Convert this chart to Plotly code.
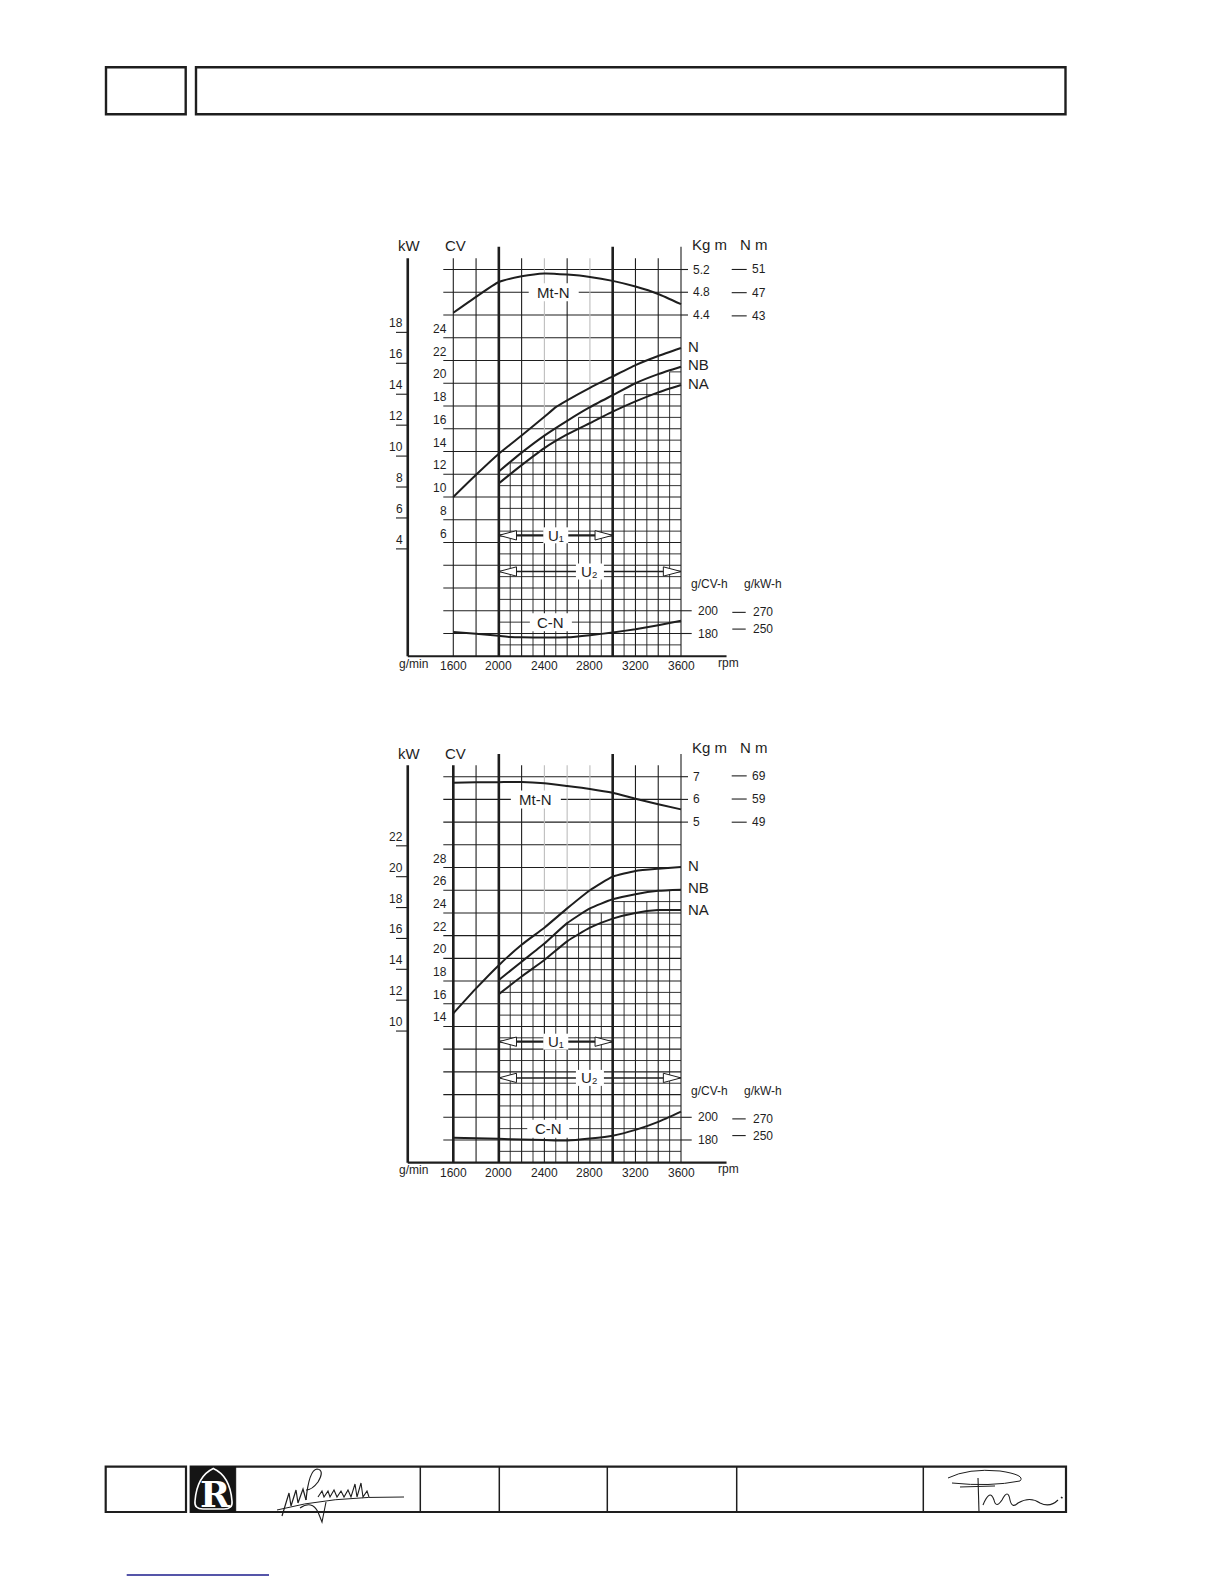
import numpy as np
import plotly.graph_objects as go

W, H = 1224, 1584
INK = "#1e1e1e"
GRAY = "#bdbdbd"
FONT = "Liberation Sans, Arial, sans-serif"

# ---------------- values ----------------
grid_rpm = [1600, 1800, 2000, 2200, 2400, 2600, 2800, 3000, 3200, 3400, 3600]
x_tick_rpm = [1600, 2000, 2400, 2800, 3200, 3600]
x_tick_text = ["1600", "2000", "2400", "2800", "3200", "3600"]
nb_rpm = [2000, 2200, 2400, 2600, 2800, 3000, 3200, 3400, 3600]
u1_rpm = [2000, 3000]
u2_rpm = [2000, 3600]

# upper chart
c1_N_rpm = [1600, 1800, 2000, 2200, 2400, 2500, 2600, 2800, 3000, 3200, 3400, 3600]
c1_N_cv = [10.0, 11.95, 13.8, 15.4, 17.05, 17.9, 18.5, 19.6, 20.6, 21.6, 22.4, 23.1]
c1_NB_cv = [12.25, 13.9, 15.4, 16.7, 17.9, 18.95, 20.0, 20.8, 21.45]
c1_NA_cv = [11.2, 12.8, 14.3, 15.5, 16.5, 17.5, 18.4, 19.2, 19.85]
c1_Mt_kgm = [4.44, 4.72, 4.98, 5.08, 5.13, 5.11, 5.07, 5.0, 4.9, 4.77, 4.59]
c1_C_rpm = [1600, 1800, 2000, 2100, 2200, 2400, 2600, 2800, 3000, 3200, 3400, 3600]
c1_C_g = [181.4, 179.7, 178.0, 177.0, 176.6, 176.4, 176.6, 178.5, 180.9, 183.8, 187.3, 191.2]
c1_cv_ticks = [6, 8, 10, 12, 14, 16, 18, 20, 22, 24]
c1_kw_ticks = [4, 6, 8, 10, 12, 14, 16, 18]
c1_kgm_ticks = [5.2, 4.8, 4.4]
c1_kgm_text = ["5.2", "4.8", "4.4"]
c1_nm_ticks = [51, 47, 43]
c1_gcv_ticks = [200, 180]
c1_gkw_ticks = [270, 250]

# lower chart
c2_N_rpm = [1600, 1800, 2000, 2200, 2400, 2600, 2800, 3000, 3200, 3400, 3600]
c2_N_cv = [15.15, 17.35, 19.4, 21.2, 22.7, 24.4, 26.0, 27.2, 27.7, 27.9, 28.05]
c2_NB_cv = [18.1, 19.7, 21.3, 23.1, 24.4, 25.2, 25.65, 25.95, 26.05]
c2_NA_cv = [16.85, 18.4, 19.85, 21.5, 22.7, 23.5, 24.0, 24.25, 24.25]
c2_Mt_kgm = [6.73, 6.75, 6.76, 6.77, 6.71, 6.59, 6.46, 6.29, 6.03, 5.79, 5.56]
c2_C_rpm = [1600, 1800, 2000, 2200, 2400, 2600, 2800, 3000, 3200, 3400, 3600]
c2_C_g = [182.0, 181.5, 181.0, 180.5, 180.0, 179.5, 181.3, 183.8, 188.9, 196.0, 205.0]
c2_cv_ticks = [14, 16, 18, 20, 22, 24, 26, 28]
c2_kw_ticks = [10, 12, 14, 16, 18, 20, 22]
c2_kgm_ticks = [7, 6, 5]
c2_kgm_text = ["7", "6", "5"]
c2_nm_ticks = [69, 59, 49]
c2_gcv_ticks = [200, 180]
c2_gkw_ticks = [270, 250]

KW_PER_CV = 1.35962
NM_PER_KGM = 9.80665
XS = 0.11385  # px per rpm


# ---------------- page geometry helpers ----------------
def px2rpm(px):
    return 1600 + (px - 453.3) / XS


def pxx(px):
    return px / W


def pxy(py):
    return 1 - py / H


charts = [
    dict(xa="x", ys=["y", "y2", "y3", "y4", "y5", "y6"], B=-4, T=30, pyB=656.25, s=11.375,
         dom=(222, 694), a=4.0, b=5.0, g0=200.0, thick=[2000, 3000], gray=[2400, 2800],
         N_rpm=c1_N_rpm, N=c1_N_cv, NB=c1_NB_cv, NA=c1_NA_cv, Mt=c1_Mt_kgm,
         C_rpm=c1_C_rpm, C=c1_C_g, cv_ticks=c1_cv_ticks, kw_ticks=c1_kw_ticks,
         kgm_ticks=c1_kgm_ticks, kgm_text=c1_kgm_text, nm_ticks=c1_nm_ticks,
         gcv_ticks=c1_gcv_ticks, gkw_ticks=c1_gkw_ticks,
         u_cv=(6.63, 3.45), mt_lab=(2482, 4.8), cn_lab=(2457, 190),
         head_y=245.5, head_y2=244.3, cons_y=584.3, foot_y=664.0, rpm_y=662.7),
    dict(xa="x2", ys=["y7", "y8", "y9", "y10", "y11", "y12"], B=2, T=36, pyB=1162.7, s=11.353,
         dom=(722, 1198), a=22.0, b=2.0, g0=140.0, thick=[1600, 2000, 3000], gray=[2400, 2600, 2800],
         N_rpm=c2_N_rpm, N=c2_N_cv, NB=c2_NB_cv, NA=c2_NA_cv, Mt=c2_Mt_kgm,
         C_rpm=c2_C_rpm, C=c2_C_g, cv_ticks=c2_cv_ticks, kw_ticks=c2_kw_ticks,
         kgm_ticks=c2_kgm_ticks, kgm_text=c2_kgm_text, nm_ticks=c2_nm_ticks,
         gcv_ticks=c2_gcv_ticks, gkw_ticks=c2_gkw_ticks,
         u_cv=(12.66, 9.47), mt_lab=(2325, 6.0), cn_lab=(2434, 190),
         head_y=753.3, head_y2=747.3, cons_y=1090.7, foot_y=1170.0, rpm_y=1169.0),
]

fig = go.Figure()
shapes = []
label_boxes = []
annotations = []
layout_axes = {}


def seg(xref, yref, x0, y0, x1, y1, w=1.1, color=INK, layer="below"):
    shapes.append(dict(type="line", xref=xref, yref=yref, x0=x0, y0=y0, x1=x1, y1=y1,
                       line=dict(color=color, width=w), layer=layer))


def txt(x, y, s, xref, yref, size=12, xanchor="center", yanchor="middle",
        xshift=0, yshift=0):
    annotations.append(dict(x=x, y=y, xref=xref, yref=yref, text=s, showarrow=False,
                            font=dict(family=FONT, size=size, color=INK), xanchor=xanchor,
                            yanchor=yanchor, xshift=xshift, yshift=yshift, borderpad=1))


def axkey(name):
    return name[0] + "axis" + name[1:]


xrange_ = [px2rpm(360), px2rpm(830)]

for ch in charts:
    xa = ch["xa"]
    ycv, ykg, ygc, ykw, ynm, ygk = ch["ys"]
    B, T, a, b, g0, s = ch["B"], ch["T"], ch["a"], ch["b"], ch["g0"], ch["s"]
    cv_lo = B + (ch["pyB"] - ch["dom"][1]) / s
    cv_hi = B + (ch["pyB"] - ch["dom"][0]) / s
    ranges = {
        ycv: [cv_lo, cv_hi],
        ykg: [(cv_lo - a) / b, (cv_hi - a) / b],
        ygc: [10 * cv_lo + g0, 10 * cv_hi + g0],
        ykw: [cv_lo / KW_PER_CV, cv_hi / KW_PER_CV],
        ynm: [(cv_lo - a) / b * NM_PER_KGM, (cv_hi - a) / b * NM_PER_KGM],
        ygk: [(10 * cv_lo + g0) * KW_PER_CV, (10 * cv_hi + g0) * KW_PER_CV],
    }
    layout_axes[axkey(xa)] = dict(domain=[pxx(360), pxx(830)], range=xrange_, visible=False,
                                  fixedrange=True, anchor=ycv, showgrid=False, zeroline=False)
    for yn in ch["ys"]:
        d = dict(range=ranges[yn], visible=False, fixedrange=True, anchor=xa,
                 showgrid=False, zeroline=False)
        if yn == ycv:
            d["domain"] = [pxy(ch["dom"][1]), pxy(ch["dom"][0])]
        else:
            d["overlaying"] = ycv
        layout_axes[axkey(yn)] = d

    NB = ch["NB"]

    def nbv(r):
        return float(np.interp(r, nb_rpm, NB))

    # ---- grid ----
    xl = px2rpm(443.3)
    for cv in range(B + 2, T + 1, 2):
        seg(xa, ycv, xl, cv, 3600, cv, 1.1)
    seg(xa, ycv, 1200, B, 4000, B, 2.2)          # bottom axis
    seg(xa, ycv, 1200, B, 1200, T + 1, 2.6)      # kW axis
    for r in grid_rpm:
        top = T + 2 if r in (2000, 3000, 3600) else T + 1
        w = 2.6 if r in ch["thick"] else 1.1
        if r in ch["gray"]:
            v = nbv(r)
            seg(xa, ycv, r, B, r, v, w)
            seg(xa, ycv, r, v, r, top, w, GRAY)
        else:
            seg(xa, ycv, r, B, r, top, w)
    # fine grid below NB
    for r in range(2100, 3600, 200):
        seg(xa, ycv, r, B, r, float(np.floor(nbv(r))), 0.9)
    fine_r = list(range(2000, 3601, 100))
    for c in range(B + 1, T, 2):
        ok = [r for r in fine_r if nbv(r) >= c]
        if ok and ok[0] < 3600:
            seg(xa, ycv, ok[0], c, 3600, c, 0.9)

    # ---- axis ticks ----
    for v in ch["kgm_ticks"]:
        seg(xa, ykg, 3600, v, px2rpm(688), v, 1.1)
    for v in ch["gcv_ticks"]:
        seg(xa, ygc, 3600, v, px2rpm(691.7), v, 1.1)
    for v in ch["nm_ticks"]:
        seg(xa, ynm, px2rpm(731.7), v, px2rpm(746.7), v, 1.1)
    for v in ch["gkw_ticks"]:
        seg(xa, ygk, px2rpm(732.3), v, px2rpm(745.7), v, 1.1)
    for v in ch["kw_ticks"]:
        seg(xa, ykw, px2rpm(396), v, 1200, v, 1.1)

    # ---- tick labels ----
    for v in ch["cv_ticks"]:
        txt(1600, v, str(v), xa, ycv, 12, "right", "bottom", xshift=-4, yshift=0)
    for v in ch["kw_ticks"]:
        txt(1200, v, str(v), xa, ykw, 12, "right", "bottom", xshift=-3, yshift=0)
    for v, t in zip(ch["kgm_ticks"], ch["kgm_text"]):
        txt(3600, v, t, xa, ykg, 12, "left", "middle", xshift=10)
    for v in ch["gcv_ticks"]:
        txt(3600, v, str(v), xa, ygc, 12, "left", "middle", xshift=15)
    for v in ch["nm_ticks"]:
        txt(px2rpm(749.5), v, str(v), xa, ynm, 12, "left", "middle")
    for v in ch["gkw_ticks"]:
        txt(px2rpm(751), v, str(v), xa, ygk, 12, "left", "middle")
    for r, t in zip(x_tick_rpm, x_tick_text):
        txt(r, B, t, xa, ycv, 12, "center", "top", yshift=-1)

    # ---- headers ----
    txt(pxx(409), pxy(ch["head_y"]), "kW", "paper", "paper", 15)
    txt(pxx(455), pxy(ch["head_y"]), "CV", "paper", "paper", 15)
    txt(pxx(709.5), pxy(ch["head_y2"]), "Kg m", "paper", "paper", 15)
    txt(pxx(754), pxy(ch["head_y2"]), "N m", "paper", "paper", 15)
    txt(pxx(709), pxy(ch["cons_y"]), "g/CV-h", "paper", "paper", 12)
    txt(pxx(762.5), pxy(ch["cons_y"]), "g/kW-h", "paper", "paper", 12)
    txt(pxx(413), pxy(ch["foot_y"]), "g/min", "paper", "paper", 12)
    txt(pxx(728), pxy(ch["rpm_y"]), "rpm", "paper", "paper", 12)

    # ---- curves ----
    line = dict(color=INK, width=2, shape="spline", smoothing=0.5)
    fig.add_trace(go.Scatter(x=ch["N_rpm"], y=ch["N"], xaxis=xa, yaxis=ycv, mode="lines",
                             line=line, hoverinfo="skip", showlegend=False, name="N"))
    fig.add_trace(go.Scatter(x=nb_rpm, y=ch["NB"], xaxis=xa, yaxis=ycv, mode="lines",
                             line=line, hoverinfo="skip", showlegend=False, name="NB"))
    fig.add_trace(go.Scatter(x=nb_rpm, y=ch["NA"], xaxis=xa, yaxis=ycv, mode="lines",
                             line=line, hoverinfo="skip", showlegend=False, name="NA"))
    fig.add_trace(go.Scatter(x=grid_rpm, y=ch["Mt"], xaxis=xa, yaxis=ykg, mode="lines",
                             line=line, hoverinfo="skip", showlegend=False, name="Mt-N"))
    fig.add_trace(go.Scatter(x=ch["C_rpm"], y=ch["C"], xaxis=xa, yaxis=ygc, mode="lines",
                             line=line, hoverinfo="skip", showlegend=False, name="C-N"))

    txt(3600, ch["N"][-1], "N", xa, ycv, 15, "left", "middle", xshift=5, yshift=1)
    txt(3600, ch["NB"][-1], "NB", xa, ycv, 15, "left", "middle", xshift=5, yshift=2)
    txt(3600, ch["NA"][-1], "NA", xa, ycv, 15, "left", "middle", xshift=5, yshift=1)

    # white boxes behind inline labels (in CV coordinates of the base axis)
    def box(rc, cvc, half_w_px, half_h_px):
        label_boxes.append(dict(type="rect", xref=xa, yref=ycv, layer="above",
                                x0=rc - half_w_px / XS, x1=rc + half_w_px / XS,
                                y0=cvc - half_h_px / s, y1=cvc + half_h_px / s,
                                fillcolor="white", line=dict(width=0)))

    mt_cv = a + b * ch["mt_lab"][1]
    box(ch["mt_lab"][0], mt_cv, 25, 9)
    txt(ch["mt_lab"][0], ch["mt_lab"][1], "Mt-N", xa, ykg, 15)
    cn_cv = (ch["cn_lab"][1] - g0) / 10.0
    box(ch["cn_lab"][0], cn_cv, 21, 9)
    txt(ch["cn_lab"][0], ch["cn_lab"][1], "C-N", xa, ygc, 15)

    # ---- U1 / U2 ranges ----
    hl = 155.0     # arrow head length (rpm)
    hh = 0.41      # arrow head half height (CV)
    for (r0, r1), ucv, lab, lx, w, bw in ((u1_rpm, ch["u_cv"][0], "U\u2081", 2500, 2.2, 12.5),
                                           (u2_rpm, ch["u_cv"][1], "U\u2082", 2800, 1.5, 14)):
        seg(xa, ycv, r0, ucv, r1, ucv, w, layer="above")
        for tip, base in ((r0, r0 + hl), (r1, r1 - hl)):
            shapes.append(dict(type="path", xref=xa, yref=ycv, layer="above",
                               path=f"M {tip},{ucv} L {base},{ucv + hh} L {base},{ucv - hh} Z",
                               fillcolor="white", line=dict(color=INK, width=1)))
        box(lx, ucv, bw, 8)
        txt(lx, ucv, lab, xa, ycv, 15)


# ---------------- page frame (header / footer) ----------------
def rect(x0, y0, x1, y1, w=2.2, fill=None, color=INK):
    d = dict(type="rect", xref="paper", yref="paper", x0=pxx(x0), x1=pxx(x1),
             y0=pxy(y1), y1=pxy(y0), line=dict(color=color, width=w), layer="above")
    if fill:
        d["fillcolor"] = fill
    shapes.append(d)


def path_px(cmds, w=1.1, color=INK, fill=None):
    parts = []
    for c in cmds:
        op, pts = c[0], c[1:]
        s_ = op + " " + " ".join(f"{pxx(x):.5f},{pxy(y):.5f}" for x, y in pts)
        parts.append(s_)
    d = dict(type="path", xref="paper", yref="paper", path=" ".join(parts),
             line=dict(color=color, width=w), layer="above")
    if fill:
        d["fillcolor"] = fill
    shapes.append(d)


rect(106, 67.3, 185.7, 114.3, 2.4)
rect(196, 67.3, 1065.5, 114.3, 2.4)

rect(105.7, 1466.7, 186, 1512, 2.2)
rect(190.7, 1466.7, 1066, 1512, 2.2)
for xd in (420.3, 499.3, 607.3, 736.7, 923.3):
    shapes.append(dict(type="line", xref="paper", yref="paper", x0=pxx(xd), x1=pxx(xd),
                       y0=pxy(1466.7), y1=pxy(1512), line=dict(color=INK, width=1.5),
                       layer="above"))
# logo
rect(190.7, 1466.7, 235.7, 1512, 1, fill="#151515", color="#151515")
path_px([("M", (195, 1501)), ("Q", (197, 1476), (213.3, 1468.5)), ("Q", (230, 1476), (232, 1501)),
         ("Q", (233, 1509), (224, 1509)), ("L", (203, 1509)), ("Q", (194, 1509), (195, 1501))],
        w=1.6, color="white")
annotations.append(dict(x=pxx(215.5), y=pxy(1494), xref="paper", yref="paper", text="R",
                        showarrow=False, font=dict(family="DejaVu Serif, serif", size=36,
                                                   color="white", weight="bold"),
                        xanchor="center", yanchor="middle"))
# signatures (drawn strokes)
path_px([("M", (277, 1510)), ("Q", (330, 1496), (404, 1497))], w=1.0)
path_px([("M", (282, 1516)), ("L", (289, 1493)), ("L", (291, 1506)), ("L", (296, 1490)),
         ("L", (298, 1503)), ("L", (303, 1489)), ("L", (306, 1500))], w=1.2)
path_px([("M", (306, 1500)), ("Q", (309, 1470), (317, 1469)), ("Q", (325, 1470), (318, 1482)),
         ("Q", (312, 1490), (306, 1490))], w=1.2)
path_px([("M", (300, 1508)), ("Q", (312, 1500), (318, 1512)), ("L", (322, 1522)),
         ("L", (326, 1502))], w=1.1)
path_px([("M", (318, 1497)), ("L", (322, 1491)), ("L", (324, 1497)), ("L", (328, 1491)),
         ("L", (330, 1497)), ("L", (334, 1490)), ("L", (337, 1497)), ("L", (341, 1491)),
         ("L", (344, 1497)), ("L", (348, 1490)), ("L", (351, 1497)), ("L", (355, 1484)),
         ("L", (357, 1497)), ("L", (361, 1483)), ("L", (363, 1497)), ("L", (367, 1491)),
         ("L", (369, 1497))], w=1.1)
path_px([("M", (948, 1478)), ("Q", (968, 1468), (1000, 1471)), ("Q", (1026, 1475), (1020, 1481)),
         ("Q", (990, 1487), (952, 1483))], w=1.0)
path_px([("M", (978, 1478)), ("L", (979, 1512))], w=1.1)
path_px([("M", (960, 1487)), ("L", (995, 1486))], w=1.0)
path_px([("M", (983, 1505)), ("Q", (990, 1488), (994, 1500)), ("Q", (996, 1509), (1002, 1500)),
         ("Q", (1008, 1488), (1010, 1500)), ("Q", (1012, 1509), (1018, 1503)),
         ("Q", (1030, 1496), (1040, 1503)), ("Q", (1050, 1508), (1058, 1500))], w=1.1)
path_px([("M", (1061, 1497)), ("L", (1062.5, 1498))], w=1.5)
# link underline at bottom
shapes.append(dict(type="line", xref="paper", yref="paper", x0=pxx(126.7), x1=pxx(269),
                   y0=pxy(1575), y1=pxy(1575), line=dict(color="#1c1c8c", width=1.6),
                   layer="above"))

fig.update_layout(
    width=W, height=H, margin=dict(l=0, r=0, t=0, b=0, pad=0),
    paper_bgcolor="white", plot_bgcolor="rgba(0,0,0,0)", showlegend=False,
    shapes=shapes + label_boxes, annotations=annotations, **layout_axes,
)
fig.write_html("out.html", config={"displayModeBar": False},
               post_script="document.body.style.margin='0';")
